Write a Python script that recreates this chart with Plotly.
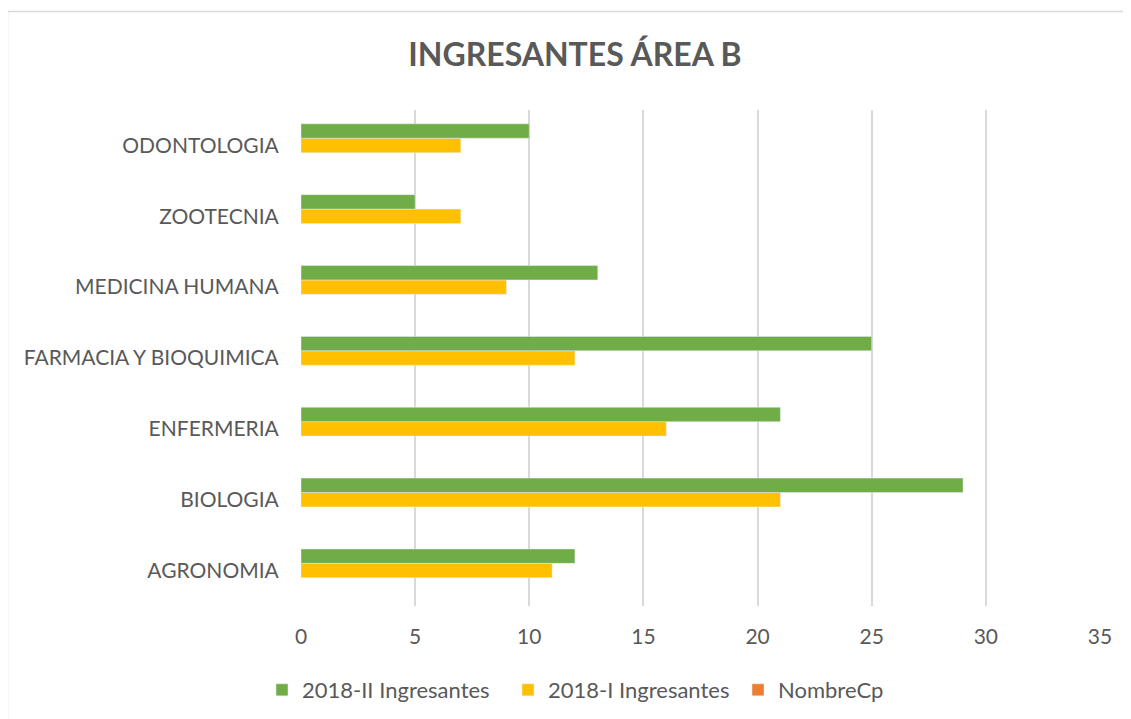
import plotly.graph_objects as go

categories = ["AGRONOMIA", "BIOLOGIA", "ENFERMERIA", "FARMACIA Y BIOQUIMICA",
              "MEDICINA HUMANA", "ZOOTECNIA", "ODONTOLOGIA"]
ingresantes_2018_II = [12, 29, 21, 25, 13, 5, 10]
ingresantes_2018_I = [11, 21, 16, 12, 9, 7, 7]
nombre_cp = [None] * len(categories)
x_ticks = [0, 5, 10, 15, 20, 25, 30, 35]

OFF = 8  # page body margin
W, H = 1131 - OFF, 719 - OFF
L, R, T, B = 301 - OFF, 31, 110 - OFF, 113
pw, ph = W - L - R, H - T - B

def px(x):
    return (x - OFF - L) / pw

def py(y):
    return (H - B - (y - OFF)) / ph

font = "Lato, Calibri, Carlito, sans-serif"
grey = "#595959"

fig = go.Figure()
fig.add_trace(go.Bar(y=categories, x=nombre_cp, orientation="h", name="NombreCp",
                     marker_color="#ED7D31", legend="legend3"))
fig.add_trace(go.Bar(y=categories, x=ingresantes_2018_I, orientation="h", name="2018-I Ingresantes",
                     marker_color="#FFC000", legend="legend2"))
fig.add_trace(go.Bar(y=categories, x=ingresantes_2018_II, orientation="h", name="2018-II Ingresantes",
                     marker_color="#70AD47", legend="legend"))

def leg(xc):
    return dict(orientation="h", x=px(xc - 20), xanchor="left",
                y=py(690), yanchor="middle", font=dict(size=22, color=grey),
                itemwidth=30, bgcolor="rgba(0,0,0,0)")

fig.update_layout(
    width=W, height=H,
    margin=dict(l=L, r=R, t=T, b=B, autoexpand=False),
    paper_bgcolor="white", plot_bgcolor="white",
    barmode="group", bargap=0.39, bargroupgap=0,
    font=dict(family=font, color=grey, size=21),
    title=dict(text="<b>INGRESANTES ÁREA B</b>", x=(575 - OFF) / W, xanchor="center",
               y=1 - (55 - OFF) / H, yanchor="middle",
               font=dict(size=32, color=grey, family=font)),
    xaxis=dict(range=[0, 35], tickvals=x_ticks, showgrid=True, gridcolor="#D9D9D9",
               gridwidth=2, zeroline=False, showline=False, ticks="outside",
               ticklen=12, tickcolor="rgba(0,0,0,0)",
               tickfont=dict(size=21, color=grey)),
    yaxis=dict(categoryorder="array", categoryarray=categories, showgrid=False,
               zeroline=False, showline=False, ticks="outside", ticklen=17,
               tickcolor="rgba(0,0,0,0)",
               tickfont=dict(size=21, color=grey)),
    legend=leg(282),
    legend2=leg(528),
    legend3=leg(758),
    showlegend=True,
)

fig.add_shape(type="line", xref="paper", yref="paper", x0=px(7.5), x1=px(1131),
              y0=py(11.5), y1=py(11.5), line=dict(color="#D9D9D9", width=1.5))
fig.add_shape(type="line", xref="paper", yref="paper", x0=px(7.5), x1=px(7.5),
              y0=py(11.5), y1=py(719), line=dict(color="#D9D9D9", width=1.5))

fig.write_html("out.html")
